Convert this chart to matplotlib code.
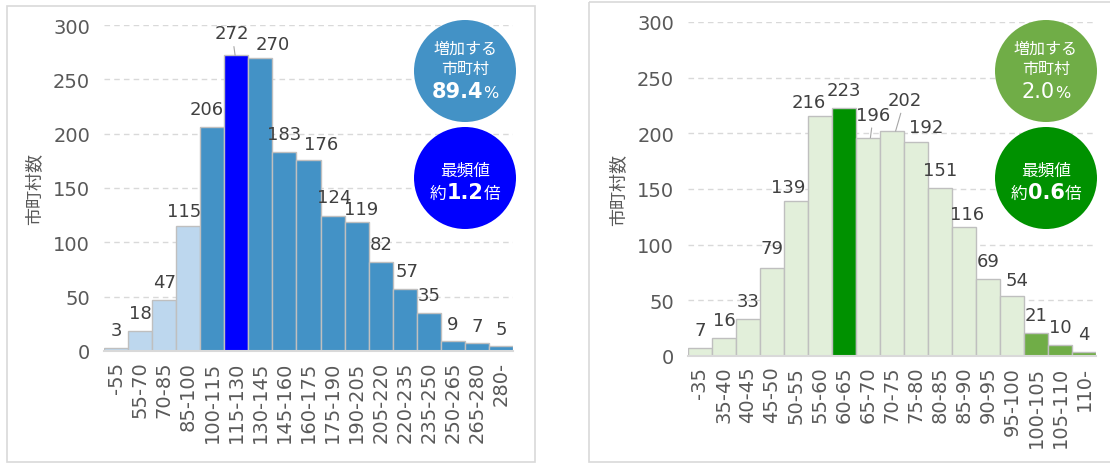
import numpy as np
import matplotlib.pyplot as plt
from matplotlib.patches import Circle, Rectangle
from matplotlib.offsetbox import TextArea, HPacker, AnnotationBbox

# --- data ---
cats_l = ['-55', '55-70', '70-85', '85-100', '100-115', '115-130', '130-145',
          '145-160', '160-175', '175-190', '190-205', '205-220', '220-235',
          '235-250', '250-265', '265-280', '280-']
vals_l = [3, 18, 47, 115, 206, 272, 270, 183, 176, 124, 119, 82, 57, 35, 9, 7, 5]

cats_r = ['-35', '35-40', '40-45', '45-50', '50-55', '55-60', '60-65', '65-70',
          '70-75', '75-80', '80-85', '85-90', '90-95', '95-100', '100-105',
          '105-110', '110-']
vals_r = [7, 16, 33, 79, 139, 216, 223, 196, 202, 192, 151, 116, 69, 54, 21, 10, 4]

inc_l = '89.4'   # 増加する市町村 (%)
inc_r = '2.0'
mode_l = '1.2'   # 最頻値 (倍)
mode_r = '0.6'

CJK = ['Noto Sans CJK JP', 'DejaVu Sans']
NUM = ['DejaVu Sans']
TICK = '#595959'
LAB = '#404040'
EDGE = '#BFBFBF'

fig = plt.figure(figsize=(11.1, 4.64), dpi=100)


def draw(rect, cats, vals, light, mid, dark, inc_from, offsets, leaders):
    ax = fig.add_axes(rect)
    x = np.arange(len(vals))
    m = int(np.argmax(vals))
    # categories from 100 upward (increase) in the mid colour, mode highlighted
    cols = [dark if i == m else (mid if i >= inc_from else light) for i in x]
    ax.bar(x, vals, width=1.0, color=cols, edgecolor=EDGE, linewidth=1, zorder=3)
    ax.set_xlim(-0.5, len(vals) - 0.5)
    ax.set_ylim(0, 300)
    ax.set_yticks(range(0, 301, 50))
    ax.yaxis.grid(True, color='#D9D9D9', linestyle=(0, (4, 3)), linewidth=1, zorder=0)
    for s in ['top', 'right', 'left']:
        ax.spines[s].set_visible(False)
    ax.spines['bottom'].set_color('#D9D9D9')
    ax.spines['bottom'].set_linewidth(1.5)
    ax.spines['bottom'].set_zorder(4)
    ax.set_xticks(x)
    ax.set_xticklabels(cats, rotation=90, fontsize=14, color=TICK)
    ax.tick_params(axis='x', length=0, pad=7)
    ax.tick_params(axis='y', length=0, pad=10, labelsize=14, labelcolor=TICK)
    ax.set_ylabel('市町村数', family=CJK, fontsize=13, color=TICK, labelpad=7)
    ax.patch.set_alpha(0)
    for i, v in enumerate(vals):
        dx, dy = offsets.get(i, (0, 18))
        kw = {}
        if i in leaders:
            kw['arrowprops'] = dict(arrowstyle='-', color='#A6A6A6', lw=0.8,
                                    shrinkA=1, shrinkB=0)
        ax.annotate(str(v), (i + leaders.get(i, 0), v), xytext=(dx, dy),
                    textcoords='offset pixels', ha='center', va='center',
                    fontsize=13, color=LAB, zorder=5, **kw)
    return ax


off_l = {3: (-4, 15), 4: (-6, 18), 5: (-3, 22), 6: (12, 14), 8: (13, 16),
         9: (2, 19), 10: (5, 13), 11: (1, 18), 12: (2, 18), 14: (0, 17),
         15: (0, 17), 16: (0, 17)}
off_r = {3: (0, 20), 4: (-8, 14), 5: (-11, 14), 7: (3, 23), 8: (9, 31),
         9: (10, 15), 11: (3, 13), 13: (5, 16)}

draw([104 / 1110, 1 - 352 / 464, 409 / 1110, 326 / 464], cats_l, vals_l,
     '#BDD7EE', '#4392C6', '#0000FF', 4, off_l, {5: -0.05})
draw([688 / 1110, 1 - 357 / 464, 408 / 1110, 334 / 464], cats_r, vals_r,
     '#E2EFDA', '#70AD47', '#009100', 14, off_r, {7: 0.1, 8: 0.15})

# overlay in pixel coordinates for frames and circles
ov = fig.add_axes([0, 0, 1, 1])
ov.set_xlim(0, 1110)
ov.set_ylim(464, 0)
ov.axis('off')
ov.add_patch(Rectangle((7, 7), 528, 456, fill=False, ec='#D9D9D9', lw=1.2))
ov.add_patch(Rectangle((589, 3), 540, 460, fill=False, ec='#D9D9D9', lw=1.2))


def pack(y, cx, parts):
    boxes = [TextArea(t, textprops=dict(color='white', fontsize=fs, family=fam,
                                        fontweight=fw)) for t, fs, fw, fam in parts]
    hp = HPacker(children=boxes, align='baseline', pad=0, sep=0)
    ov.add_artist(AnnotationBbox(hp, (cx, y), xycoords='data', frameon=False,
                                 box_alignment=(0.5, 0.5), pad=0))


def circles(cx, c1, c2, pct, mode, bold_pct):
    ov.add_patch(Circle((cx, 72), 51, color=c1, lw=0))
    ov.add_patch(Circle((cx, 179), 51, color=c2, lw=0))
    ov.text(cx, 49, '増加する', ha='center', va='center', color='white',
            fontsize=11.5, family=CJK)
    ov.text(cx, 69, '市町村', ha='center', va='center', color='white',
            fontsize=11.5, family=CJK)
    pack(92, cx, [(pct, 15, 'bold' if bold_pct else 'normal', NUM),
                  ('%', 11.5, 'normal', NUM)])
    ov.text(cx, 171, '最頻値', ha='center', va='center', color='white',
            fontsize=12, family=CJK)
    pack(193, cx, [('約', 12, 'normal', CJK), (mode, 15, 'bold', NUM),
                   ('倍', 12, 'normal', CJK)])


circles(465, '#4392C6', '#0000FF', inc_l, mode_l, True)
circles(1046, '#70AD47', '#009100', inc_r, mode_r, False)

fig.savefig('out.png', dpi=100)
